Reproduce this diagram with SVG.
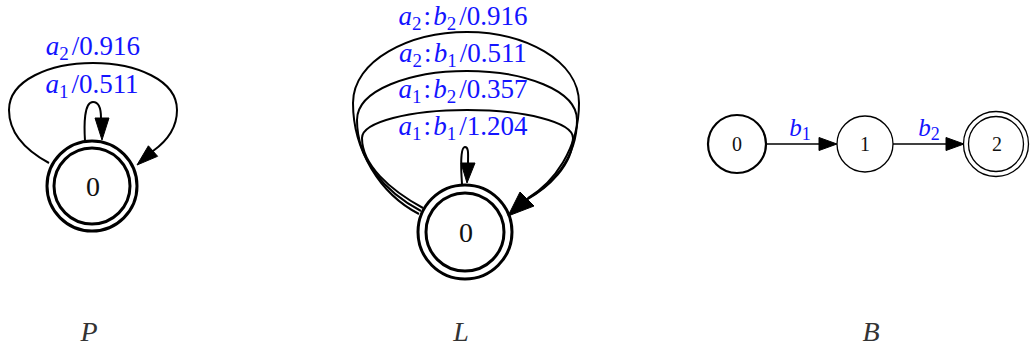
<svg xmlns="http://www.w3.org/2000/svg" width="1031" height="349" viewBox="0 0 1031 349">
<defs>
<style>
.edge{fill:none;stroke:#000;stroke-width:2}
.ah{fill:#000;stroke:#000;stroke-width:1}
.lbl{font-family:"Liberation Serif",serif;font-size:27px;fill:#1414ff;text-anchor:middle}
.lblb{font-family:"Liberation Serif",serif;font-size:25px;fill:#1414ff;text-anchor:middle}
.i{font-style:italic}
.sub{font-size:19px}
.nl{font-family:"Liberation Serif",serif;font-size:28px;fill:#111;text-anchor:middle}
.nls{font-family:"Liberation Serif",serif;font-size:20px;fill:#111;text-anchor:middle}
.cap{font-family:"Liberation Serif",serif;font-size:28px;font-style:italic;fill:#333;text-anchor:middle}
.ring{fill:none;stroke:#000;stroke-width:3}
.thin{fill:none;stroke:#000;stroke-width:1.3}
</style>
</defs>
<rect width="1031" height="349" fill="#fff"/>
<g id="connectors">
<path class="edge" d="M85,141 C84,125 84,102 93,102 C100,102 101,110 101,118"/>
<polygon class="ah" points="95,118 109,118 102,140"/>
<path class="edge" d="M49,163 C25,150 9,132 9,110 C9,80 50,63 93,63 C136,63 177,80 177,110 C177,128 167,141 153,151"/>
<polygon class="ah" points="157.6,156.3 148.4,145.8 137,165"/>
<path class="edge" d="M462,184 C461,170 460,147 465,147 C469,147 468,155 468,163"/>
<polygon class="ah" points="461,163 475,163 467,183"/>
<path class="edge" d="M423,208 C390,190 362,165 362,138 C362,122 410,110 467,110 C524,110 573,122 573,138 C573,165 548,188 526,200"/>
<path class="edge" d="M421,211 C385,192 357,160 357,120 C357,90 410,71 467,71 C524,71 577,90 577,120 C577,160 550,186 527,199"/>
<path class="edge" d="M419,214 C380,194 353,150 353,103 C353,60 410,32 467,32 C524,32 579,60 579,103 C579,150 553,183 528,198"/>
<polygon class="ah" points="520,192 534,206 508,216"/>
<line class="edge" x1="767" y1="144" x2="820" y2="144" style="stroke-width:1.5"/>
<polygon class="ah" points="819,137.5 837,144 819,150.5"/>
<line class="edge" x1="893" y1="144" x2="947" y2="144" style="stroke-width:1.5"/>
<polygon class="ah" points="946,137.5 964,144 946,150.5"/>
</g>
<g id="labels">
<text class="lbl" x="93" y="55"><tspan class="i">a</tspan><tspan class="sub" dy="5">2</tspan><tspan dy="-5" dx="3">/0.916</tspan></text>
<text class="lbl" x="92" y="93"><tspan class="i">a</tspan><tspan class="sub" dy="5">1</tspan><tspan dy="-5" dx="3">/0.511</tspan></text>
<text class="lbl" x="463" y="25"><tspan class="i">a</tspan><tspan class="sub" dy="5">2</tspan><tspan dy="-5" dx="2">:</tspan><tspan class="i" dx="2">b</tspan><tspan class="sub" dy="5">2</tspan><tspan dy="-5" dx="3">/0.916</tspan></text>
<text class="lbl" x="463" y="62"><tspan class="i">a</tspan><tspan class="sub" dy="5">2</tspan><tspan dy="-5" dx="2">:</tspan><tspan class="i" dx="2">b</tspan><tspan class="sub" dy="5">1</tspan><tspan dy="-5" dx="3">/0.511</tspan></text>
<text class="lbl" x="463" y="98"><tspan class="i">a</tspan><tspan class="sub" dy="5">1</tspan><tspan dy="-5" dx="2">:</tspan><tspan class="i" dx="2">b</tspan><tspan class="sub" dy="5">2</tspan><tspan dy="-5" dx="3">/0.357</tspan></text>
<text class="lbl" x="463" y="135"><tspan class="i">a</tspan><tspan class="sub" dy="5">1</tspan><tspan dy="-5" dx="2">:</tspan><tspan class="i" dx="2">b</tspan><tspan class="sub" dy="5">1</tspan><tspan dy="-5" dx="3">/1.204</tspan></text>
<text class="lblb" x="800" y="136"><tspan class="i">b</tspan><tspan class="sub" dy="4" style="font-size:18px">1</tspan></text>
<text class="lblb" x="929" y="136"><tspan class="i">b</tspan><tspan class="sub" dy="4" style="font-size:18px">2</tspan></text>
</g>
<g id="P-0">
<circle class="ring" cx="92" cy="186" r="45"/>
<circle class="ring" cx="92" cy="186" r="38"/>
<text class="nl" x="93" y="196">0</text>
</g>
<g id="L-0">
<circle class="ring" cx="465" cy="232" r="47"/>
<circle class="ring" cx="465" cy="232" r="39"/>
<text class="nl" x="466" y="242">0</text>
</g>
<g id="B-0">
<circle cx="737" cy="144" r="29" fill="none" stroke="#000" stroke-width="2.2"/>
<text class="nls" x="737" y="151">0</text>
</g>
<g id="B-1">
<circle class="thin" cx="865" cy="144" r="28"/>
<text class="nls" x="865" y="151">1</text>
</g>
<g id="B-2">
<circle class="thin" cx="996" cy="144" r="32.5"/>
<circle class="thin" cx="996" cy="144" r="27.5"/>
<text class="nls" x="997" y="151">2</text>
</g>
<g id="captions">
<text class="cap" x="89" y="341">P</text>
<text class="cap" x="461" y="341">L</text>
<text class="cap" x="871" y="341">B</text>
</g>
</svg>
